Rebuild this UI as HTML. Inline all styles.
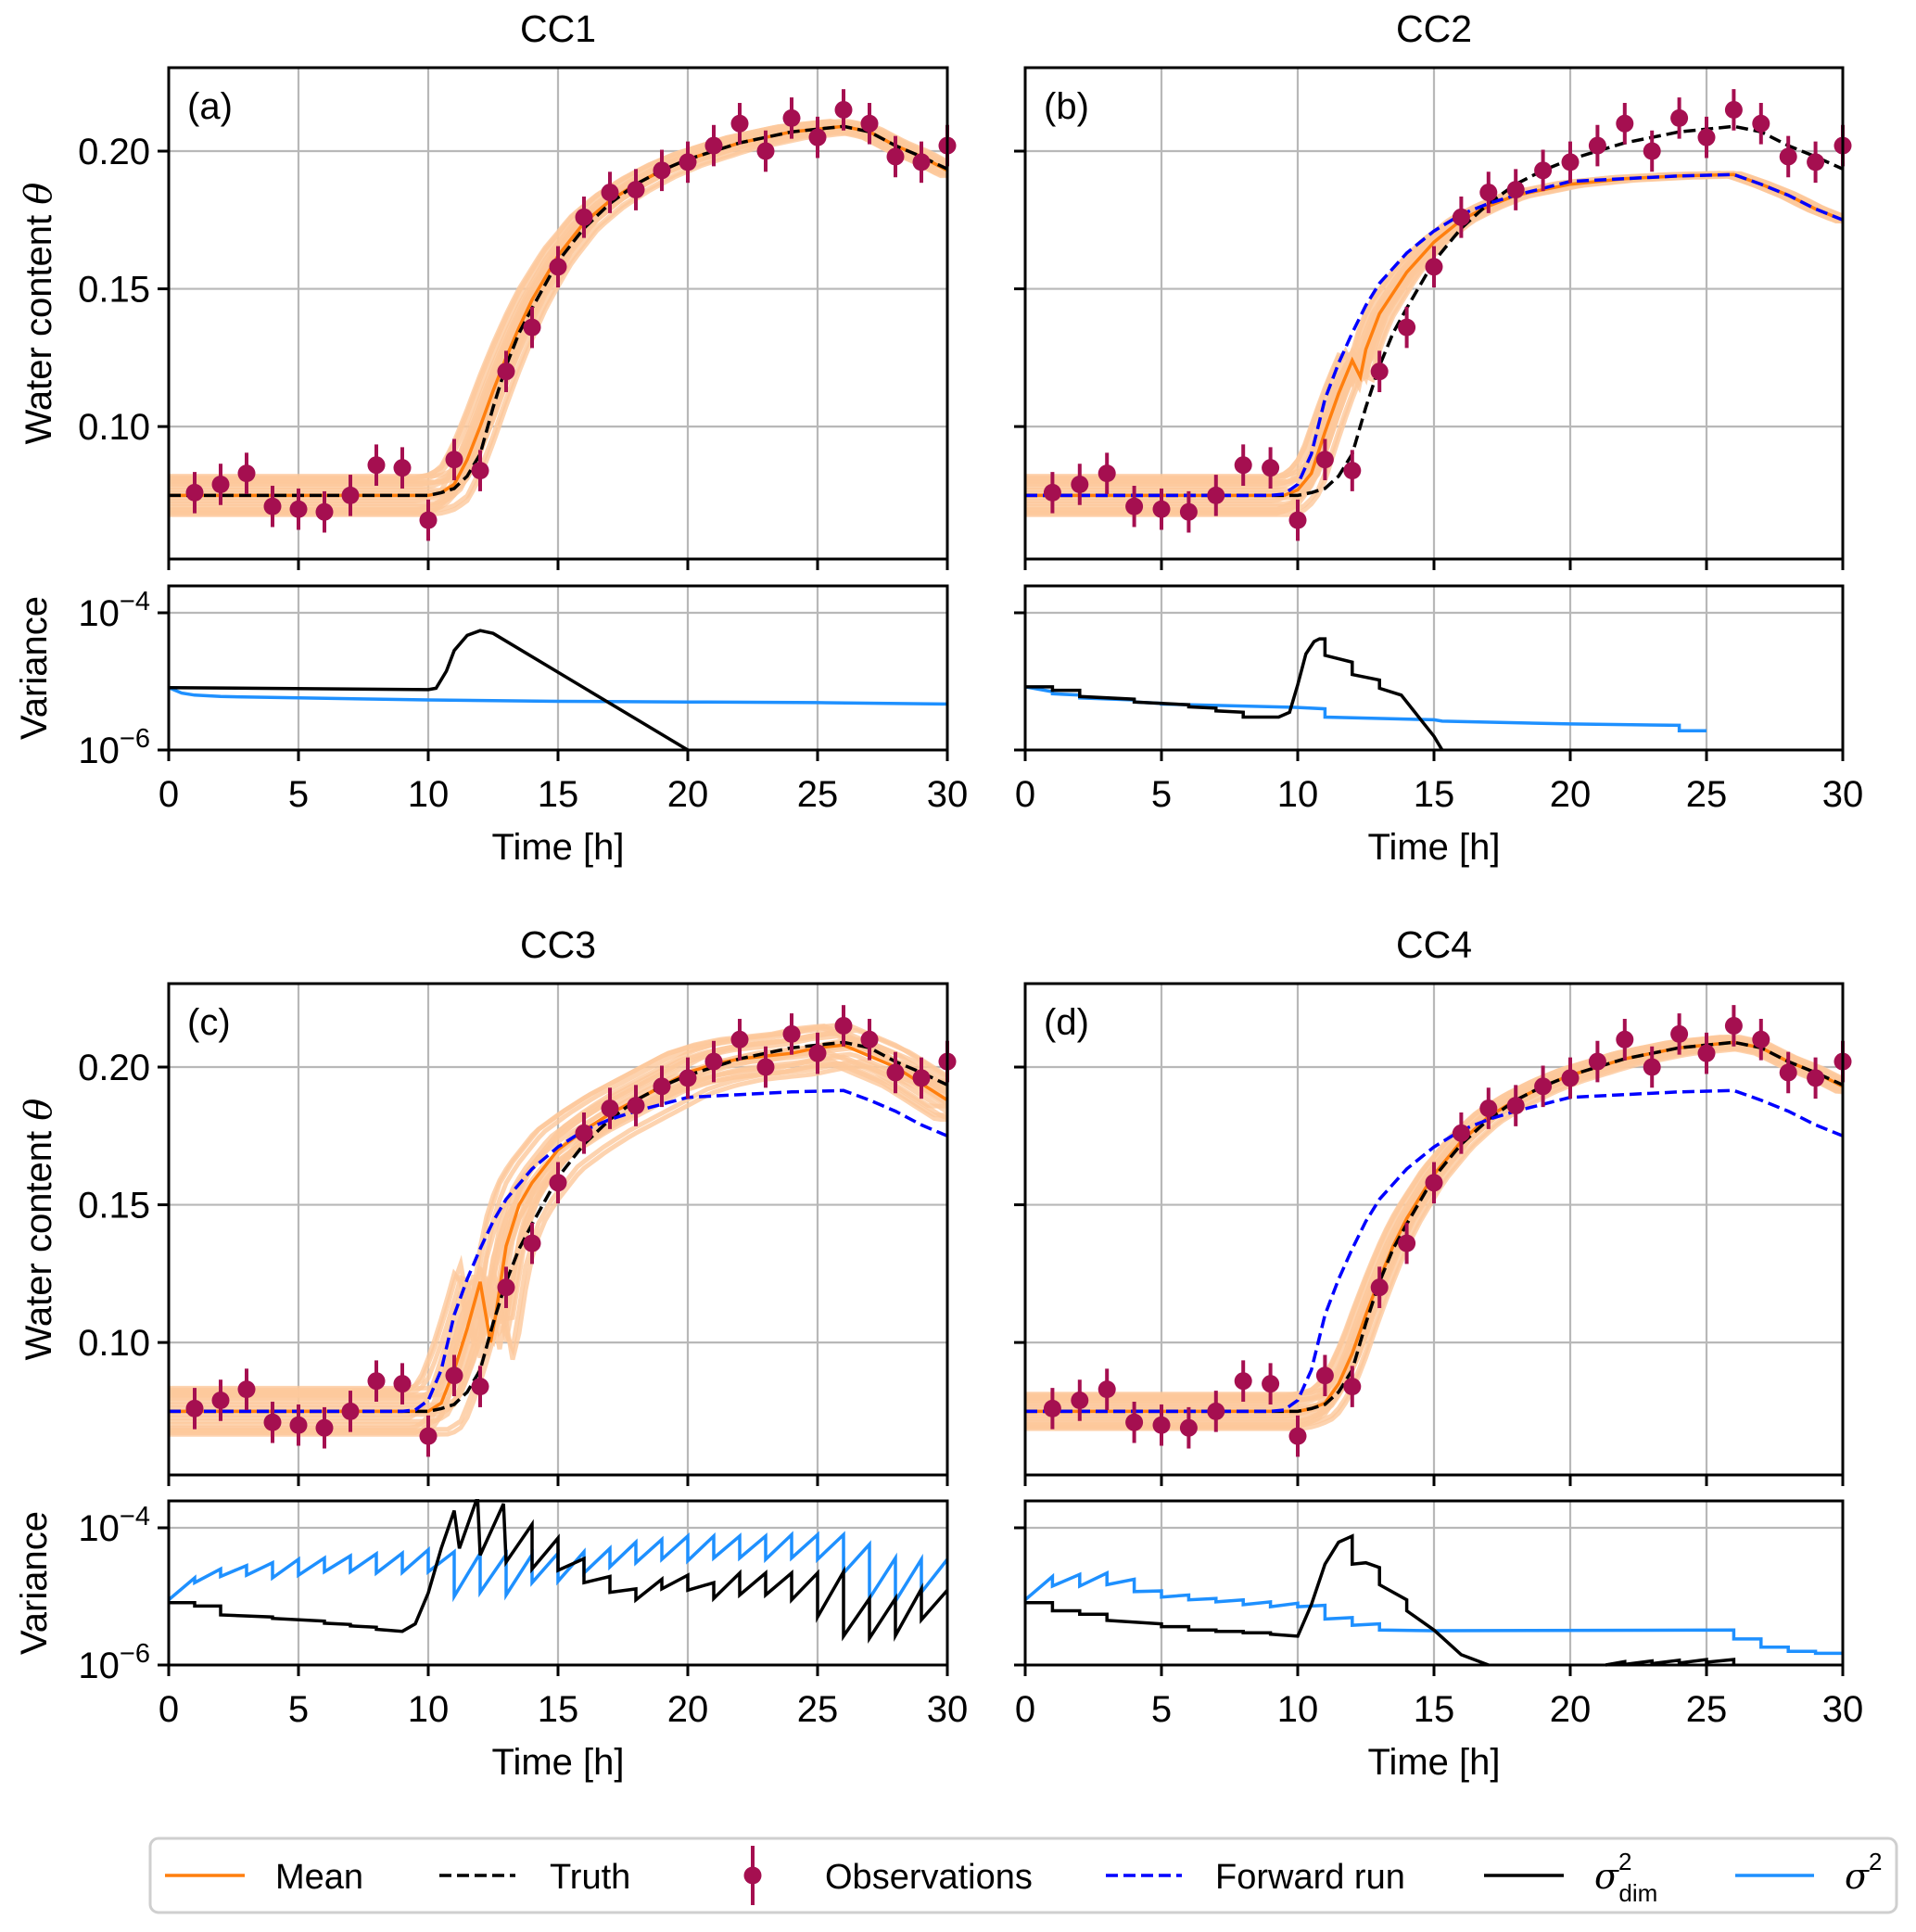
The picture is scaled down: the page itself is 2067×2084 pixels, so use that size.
<!DOCTYPE html>
<html><head><meta charset="utf-8">
<style>
html,body{margin:0;padding:0;background:#fff;}
svg{display:block;font-family:"Liberation Sans","DejaVu Sans",sans-serif;}
</style></head>
<body>
<svg id="fig" xmlns="http://www.w3.org/2000/svg" width="2067" height="2084" viewBox="0 0 2067 2084">
<rect width="2067" height="2084" fill="#fff"/>
</svg>
<script>
// ---------------- data ----------------
const obsTime = [1,2,3,4,5,6,7,8,9,10,11,12,13,14,15,16,17,18,19,20,21,22,23,24,25,26,27,28,29,30];
const obsVals = [0.076,0.079,0.083,0.071,0.070,0.069,0.075,0.086,0.085,0.066,0.088,0.084,0.120,0.136,0.158,0.176,0.185,0.186,0.193,0.196,0.202,0.210,0.200,0.212,0.205,0.215,0.210,0.198,0.196,0.202];
const obsErr = 0.0075;

const truthT = [0,10,10.5,11,11.5,12,12.5,13,13.5,14,15,16,17,18,19,20,21,22,23,24,25,26,27,28,29,30];
const truthV = [0.075,0.075,0.076,0.0775,0.082,0.090,0.107,0.122,0.134,0.143,0.160,0.172,0.181,0.188,0.193,0.197,0.200,0.203,0.205,0.207,0.208,0.209,0.207,0.202,0.198,0.1935];

const fwdT = [0,9,9.5,10,10.5,11,11.5,12,12.5,13,14,15,16,17,18,20,22,24,26,27,28,29,30];
const fwdV = [0.075,0.075,0.0755,0.079,0.090,0.110,0.123,0.134,0.144,0.152,0.163,0.171,0.177,0.181,0.184,0.189,0.190,0.191,0.1915,0.188,0.184,0.179,0.175];

const meanAT = [0,10,10.5,11,11.5,12,12.5,13,13.5,14,15,16,17,18,19,20,21,22,23,24,25,26,27,28,29,30];
const meanAV = [0.075,0.075,0.076,0.079,0.088,0.100,0.113,0.125,0.136,0.146,0.162,0.174,0.182,0.188,0.193,0.197,0.200,0.203,0.205,0.207,0.208,0.209,0.207,0.202,0.198,0.193];
const meanBT = [0,9.5,10,10.5,11,11.5,12,12.3,12.5,13,14,15,16,17,18,20,22,24,26,27,28,29,30];
const meanBV = [0.075,0.075,0.077,0.083,0.098,0.112,0.124,0.118,0.128,0.141,0.156,0.167,0.175,0.180,0.184,0.188,0.190,0.191,0.1915,0.188,0.184,0.179,0.175];
const meanCT = [0,10,10.5,11,11.5,12,12.4,12.6,13,13.5,14,15,16,17,18,19,20,21,22,23,24,25,26,27,28,29,30];
const meanCV = [0.075,0.075,0.078,0.090,0.105,0.122,0.100,0.110,0.135,0.150,0.158,0.170,0.177,0.183,0.188,0.193,0.198,0.201,0.203,0.204,0.205,0.207,0.208,0.204,0.200,0.194,0.188];
const meanDT = [0,10,10.5,11,11.5,12,12.5,13,13.5,14,15,16,17,18,19,20,21,22,23,24,25,26,27,28,29,30];
const meanDV = [0.075,0.075,0.076,0.078,0.085,0.096,0.110,0.123,0.135,0.145,0.161,0.173,0.182,0.188,0.193,0.197,0.200,0.203,0.205,0.207,0.208,0.209,0.207,0.202,0.198,0.193];

// ensemble member offsets (time shift in h, theta offset)
const memberDt = [-0.8,-0.5,-0.3,-0.1,0.1,0.3,0.5,0.8,-0.65,0.65,-0.7,-0.4,-0.2,0.0,0.2,0.4,0.7,-0.55,0.55,0.0];
const memberDy = [0.006,-0.005,0.004,-0.006,0.007,-0.003,0.005,-0.007,-0.002,0.002,0.0065,-0.0065,0.003,-0.004,0.001,-0.001,-0.0055,0.0055,0.0,0.0045];

// variance series: time [h] and log10(variance)
const varAdimT = [0,10,10.3,10.7,11,11.5,12,12.5,20];
const varAdimL = [-5.09,-5.12,-5.10,-4.85,-4.55,-4.33,-4.26,-4.30,-6.0];
const varAsigT = [0,0.5,1,2,5,10,15,20,25,30];
const varAsigL = [-5.09,-5.17,-5.20,-5.22,-5.24,-5.27,-5.29,-5.30,-5.31,-5.33];

const varBdimT = [0,1,1,2,2,4,4,6,6,7,7,8,8,9.3,9.7,10,10.3,10.6,10.8,11,11,12,12,13,13,13.8,14.2,14.6,15,15.3];
const varBdimL = [-5.08,-5.08,-5.13,-5.13,-5.22,-5.26,-5.30,-5.34,-5.37,-5.39,-5.43,-5.45,-5.52,-5.52,-5.45,-5.05,-4.60,-4.42,-4.38,-4.38,-4.62,-4.72,-4.90,-4.98,-5.10,-5.20,-5.40,-5.60,-5.80,-6.0];
const varBsigT = [0,1,1,2,2,4,4,5,5,10,11,11,15,15.3,20,24,24,25];
const varBsigL = [-5.08,-5.15,-5.18,-5.20,-5.24,-5.27,-5.30,-5.32,-5.33,-5.38,-5.40,-5.52,-5.56,-5.58,-5.62,-5.64,-5.72,-5.72];

const varCsigT = [0,1,1,2,2,3,3,4,4,5,5,6,6,7,7,8,8,9,9,10,10,11,11,12,12,13,13,14,14,15,15,16,16,17,17,18,18,19,19,20,20,21,21,22,22,23,23,24,24,25,25,26,26,27,27,28,28,29,29,30];
const varCsigL = [-5.05,-4.73,-4.80,-4.60,-4.71,-4.55,-4.69,-4.51,-4.73,-4.46,-4.69,-4.44,-4.64,-4.41,-4.64,-4.38,-4.66,-4.37,-4.65,-4.32,-4.64,-4.35,-5.00,-4.37,-4.94,-4.39,-4.98,-4.39,-4.80,-4.37,-4.78,-4.35,-4.66,-4.30,-4.57,-4.21,-4.51,-4.17,-4.46,-4.12,-4.48,-4.12,-4.44,-4.12,-4.44,-4.12,-4.46,-4.10,-4.44,-4.10,-4.46,-4.10,-4.66,-4.24,-5.03,-4.44,-5.07,-4.46,-4.94,-4.46];
const varCdimT = [0,1,1,2,2,4,4,6,6,7,7,8,8,9,9.5,10,10.5,11,11.2,11.9,12,12.9,13,14,14,15,15,16,16,17,17,18,18,19,19,20,20,21,21,22,22,23,23,24,24,25,25,26,26,27,27,28,28,29,29,30];
const varCdimL = [-5.09,-5.09,-5.14,-5.14,-5.27,-5.30,-5.32,-5.36,-5.39,-5.41,-5.43,-5.45,-5.48,-5.51,-5.40,-4.95,-4.30,-3.75,-4.30,-3.55,-4.40,-3.65,-4.50,-3.95,-4.60,-4.15,-4.62,-4.45,-4.80,-4.71,-4.94,-4.89,-5.05,-4.75,-4.89,-4.69,-4.91,-4.80,-5.03,-4.66,-4.98,-4.66,-4.98,-4.66,-5.05,-4.66,-5.30,-4.64,-5.58,-5.03,-5.61,-5.03,-5.57,-4.89,-5.34,-4.91];

const varDdimT = [0,1,1,2,2,3,3,5,5,6,6,7,7,8,8,9,9,10,10.5,11,11.5,12,12,12.5,13,13,14,14,15,16,17];
const varDdimL = [-5.09,-5.09,-5.21,-5.21,-5.26,-5.26,-5.35,-5.40,-5.44,-5.44,-5.49,-5.49,-5.51,-5.51,-5.53,-5.53,-5.55,-5.58,-5.12,-4.53,-4.21,-4.12,-4.53,-4.51,-4.58,-4.83,-5.05,-5.21,-5.49,-5.85,-6.0];
const varDdim2T = [21.3,22,22,23,23,24,24,25,25,26,26];
const varDdim2L = [-6.0,-5.95,-5.99,-5.94,-5.98,-5.93,-5.97,-5.92,-5.96,-5.92,-6.0];
const varDsigT = [0,1,1,2,2,3,3,4,4,5,5,6,6,7,7,8,8,9,9,10,10,11,11,12,12,13,13,15,26,26,27,27,28,28,29,29,30];
const varDsigL = [-5.05,-4.71,-4.85,-4.68,-4.85,-4.66,-4.83,-4.75,-4.93,-4.92,-5.01,-4.98,-5.05,-5.03,-5.08,-5.05,-5.12,-5.08,-5.15,-5.10,-5.15,-5.13,-5.33,-5.31,-5.42,-5.40,-5.49,-5.50,-5.49,-5.62,-5.62,-5.74,-5.74,-5.80,-5.80,-5.83,-5.83];

const xTicks = [0,5,10,15,20,25,30];
const thetaTicks = [0.10,0.15,0.20];
const thetaTickLabels = ["0.10","0.15","0.20"];
const varTicks = [-4,-6];

// ---------------- layout ----------------
const NS = "http://www.w3.org/2000/svg";
const svg = document.getElementById('fig');
const cols = [{x0:182,x1:1022},{x0:1106,x1:1988}];
const rows = [{t0:73,t1:603,v0:632,v1:809},{t0:1061,t1:1591,v0:1619,v1:1796}];
const TH_TOP = 0.2303, TH_BOT = 0.0519;
const LV_TOP = -3.608, LV_BOT = -6.0;
const GRID = "#b8b8b8";

function el(tag, attrs, parent){
  const e = document.createElementNS(NS, tag);
  for (const k in attrs) e.setAttribute(k, attrs[k]);
  (parent||svg).appendChild(e);
  return e;
}
function xScale(c,t){ return c.x0 + (t/30)*(c.x1-c.x0); }
function thScale(r,v){ return r.t0 + (TH_TOP - v)/(TH_TOP-TH_BOT)*(r.t1-r.t0); }
function lvScale(r,l){ return r.v0 + (LV_TOP - l)/(LV_TOP-LV_BOT)*(r.v1-r.v0); }
function interp(ts, vs, t){
  if (t<=ts[0]) return vs[0];
  for (let i=1;i<ts.length;i++){ if (t<=ts[i]){ const f=(t-ts[i-1])/((ts[i]-ts[i-1])||1); return vs[i-1]+f*(vs[i]-vs[i-1]); } }
  return vs[vs.length-1];
}

const panels = [
  {id:'a', title:'CC1', c:0, r:0, mT:meanAT, mV:meanAV, fwd:false, st:0.7, sy:1.0, decay:0.3,
   dims:[[varAdimT,varAdimL]], sig:[varAsigT,varAsigL]},
  {id:'b', title:'CC2', c:1, r:0, mT:meanBT, mV:meanBV, fwd:true, st:0.5, sy:1.0, decay:0.08,
   dims:[[varBdimT,varBdimL]], sig:[varBsigT,varBsigL]},
  {id:'c', title:'CC3', c:0, r:1, mT:meanCT, mV:meanCV, fwd:true, st:1.1, sy:1.2, decay:0.9,
   dims:[[varCdimT,varCdimL]], sig:[varCsigT,varCsigL]},
  {id:'d', title:'CC4', c:1, r:1, mT:meanDT, mV:meanDV, fwd:true, st:0.5, sy:0.9, decay:0.35,
   dims:[[varDdimT,varDdimL],[varDdim2T,varDdim2L]], sig:[varDsigT,varDsigL]}
];

const defs = el('defs',{});
panels.forEach(p=>{
  const c = cols[p.c], r = rows[p.r];
  const cp1 = el('clipPath',{id:'ct'+p.id},defs);
  el('rect',{x:c.x0,y:r.t0,width:c.x1-c.x0,height:r.t1-r.t0},cp1);
  const cp2 = el('clipPath',{id:'cv'+p.id},defs);
  el('rect',{x:c.x0,y:r.v0-2,width:c.x1-c.x0,height:r.v1-r.v0+4},cp2);

  const gT = el('g',{});
  
  
  xTicks.forEach(t=>{
    const x = xScale(c,t);
    const gl = el('line',{x1:x,y1:r.t0,x2:x,y2:r.t1,stroke:GRID,'stroke-width':2.2},gT);
    
    
    el('line',{x1:x,y1:r.t1,x2:x,y2:r.t1+12,stroke:'#000','stroke-width':3},gT);
  });
  thetaTicks.forEach((v,i)=>{
    const y = thScale(r,v);
    const gl = el('line',{x1:c.x0,y1:y,x2:c.x1,y2:y,stroke:GRID,'stroke-width':2.2},gT);
    
    
    el('line',{x1:c.x0-12,y1:y,x2:c.x0,y2:y,stroke:'#000','stroke-width':3},gT);
    if (p.c===0){
      const tx = el('text',{x:c.x0-20,y:y+14,'font-size':40,'text-anchor':'end',fill:'#000'},gT);
      tx.textContent = thetaTickLabels[i];
      
      
    }
  });
  const data = el('g',{'clip-path':'url(#ct'+p.id+')'});
  const gEns = el('g',{},data);
  
  
  memberDt.forEach((dt,k)=>{
    let pts=[];
    for (let t=0;t<=30.001;t+=0.25){
      const w = t<10 ? 1 : (t<15 ? 1-(1-p.decay)*(t-10)/5 : p.decay);
      const v = interp(p.mT,p.mV,t - dt*p.st) + memberDy[k]*p.sy*w;
      pts.push(xScale(c,t).toFixed(1)+','+thScale(r,v).toFixed(1));
    }
    const pl = el('polyline',{points:pts.join(' '),fill:'none',stroke:'#fcc89b','stroke-opacity':0.8,'stroke-width':5},gEns);
    
    
  });
  const meanPl = el('polyline',{points:p.mT.map((t,i)=>xScale(c,t).toFixed(1)+','+thScale(r,p.mV[i]).toFixed(1)).join(' '),fill:'none',stroke:'#ff7f0e','stroke-width':3.5},data);
  
  
  const trPl = el('polyline',{points:truthT.map((t,i)=>xScale(c,t).toFixed(1)+','+thScale(r,truthV[i]).toFixed(1)).join(' '),fill:'none',stroke:'#000','stroke-width':3.5,'stroke-dasharray':'13,6'},data);
  
  
  if (p.fwd){
    const fPl = el('polyline',{points:fwdT.map((t,i)=>xScale(c,t).toFixed(1)+','+thScale(r,fwdV[i]).toFixed(1)).join(' '),fill:'none',stroke:'#0000ff','stroke-width':3.5,'stroke-dasharray':'13,6'},data);
    
    
  }
  const gObs = el('g',{});
  
  
  obsTime.forEach((t,i)=>{
    const x = xScale(c,t);
    const g = el('g',{},gObs);
    
    
    el('line',{x1:x,y1:thScale(r,obsVals[i]+obsErr),x2:x,y2:thScale(r,obsVals[i]-obsErr),stroke:'#a50f50','stroke-width':4},g);
    el('circle',{cx:x,cy:thScale(r,obsVals[i]),r:9.5,fill:'#a50f50'},g);
  });
  const frame = el('rect',{x:c.x0,y:r.t0,width:c.x1-c.x0,height:r.t1-r.t0,fill:'none',stroke:'#000','stroke-width':3});
  
  
  const lab = el('text',{x:c.x0+20,y:r.t0+55,'font-size':40,fill:'#000'});
  lab.textContent = '('+p.id+')';
  
  
  const ttl = el('text',{x:(c.x0+c.x1)/2,y:r.t0-28,'font-size':41,'text-anchor':'middle',fill:'#000'});
  ttl.textContent = p.title;
  
  

  const gV = el('g',{});
  
  
  xTicks.forEach(t=>{
    const x = xScale(c,t);
    el('line',{x1:x,y1:r.v0,x2:x,y2:r.v1,stroke:GRID,'stroke-width':2.2},gV);
    el('line',{x1:x,y1:r.v1,x2:x,y2:r.v1+12,stroke:'#000','stroke-width':3},gV);
    const tx = el('text',{x:x,y:r.v1+61,'font-size':40,'text-anchor':'middle',fill:'#000'},gV);
    tx.textContent = String(t);
    
    
  });
  varTicks.forEach(l=>{
    const y = lvScale(r,l);
    el('line',{x1:c.x0,y1:y,x2:c.x1,y2:y,stroke:GRID,'stroke-width':2.2},gV);
    el('line',{x1:c.x0-12,y1:y,x2:c.x0,y2:y,stroke:'#000','stroke-width':3},gV);
    if (p.c===0){
      const tx = el('text',{x:c.x0-20,y:y+14,'font-size':40,'text-anchor':'end',fill:'#000'},gV);
      
      
      const t1 = el('tspan',{},tx); t1.textContent='10';
      const t2 = el('tspan',{dy:-17,'font-size':29},tx); t2.textContent='\u2212'+Math.abs(l);
    }
  });
  const vd = el('g',{'clip-path':'url(#cv'+p.id+')'});
  const sp = el('polyline',{points:p.sig[0].map((t,i)=>xScale(c,t).toFixed(1)+','+lvScale(r,p.sig[1][i]).toFixed(1)).join(' '),fill:'none',stroke:'#1e90ff','stroke-width':3.5},vd);
  
  
  p.dims.forEach(d=>{
    const dp = el('polyline',{points:d[0].map((t,i)=>xScale(c,t).toFixed(1)+','+lvScale(r,d[1][i]).toFixed(1)).join(' '),fill:'none',stroke:'#000','stroke-width':3.5},vd);
    
    
  });
  const vf = el('rect',{x:c.x0,y:r.v0,width:c.x1-c.x0,height:r.v1-r.v0,fill:'none',stroke:'#000','stroke-width':3});
  
  
  const xl = el('text',{x:(c.x0+c.x1)/2,y:r.v1+118,'font-size':40,'text-anchor':'middle',fill:'#000'});
  xl.textContent = 'Time [h]';
  
  
  if (p.c===0){
    const cy = (r.t0+r.t1)/2;
    const yl = el('text',{x:0,y:0,'font-size':40,'text-anchor':'middle',fill:'#000',transform:'translate(55,'+cy+') rotate(-90)'});
    
    
    const a = el('tspan',{},yl); a.textContent='Water content ';
    const b = el('tspan',{'font-style':'italic','font-family':'"DejaVu Serif",serif'},yl); b.textContent='\u03b8';
    const cv = (r.v0+r.v1)/2;
    const vl = el('text',{x:0,y:0,'font-size':40,'text-anchor':'middle',fill:'#000',transform:'translate(50,'+cv+') rotate(-90)'});
    vl.textContent = 'Variance';
    
    
  }
});

// ---------------- legend ----------------
const lg = el('g',{});


el('rect',{x:162,y:1983,width:1884,height:80,rx:9,fill:'#fff',stroke:'#cfcfcf','stroke-width':3},lg);
const LY = 2023;
function legItem(name, draw){
  const g = el('g',{},lg);
  
  
  draw(g);
  return g;
}
legItem('legend-entry-mean',g=>{
  el('line',{x1:178,y1:LY,x2:264,y2:LY,stroke:'#ff7f0e','stroke-width':3.5},g);
  const t=el('text',{x:297,y:LY+14,'font-size':38},g); t.textContent='Mean';
});
legItem('legend-entry-truth',g=>{
  el('line',{x1:474,y1:LY,x2:556,y2:LY,stroke:'#000','stroke-width':3.5,'stroke-dasharray':'13,6'},g);
  const t=el('text',{x:593,y:LY+14,'font-size':38},g); t.textContent='Truth';
});
legItem('legend-entry-observations',g=>{
  el('line',{x1:812,y1:LY-32,x2:812,y2:LY+32,stroke:'#a50f50','stroke-width':4},g);
  el('circle',{cx:812,cy:LY,r:9.5,fill:'#a50f50'},g);
  const t=el('text',{x:890,y:LY+14,'font-size':38},g); t.textContent='Observations';
});
legItem('legend-entry-forward-run',g=>{
  el('line',{x1:1193,y1:LY,x2:1275,y2:LY,stroke:'#0000ff','stroke-width':3.5,'stroke-dasharray':'13,6'},g);
  const t=el('text',{x:1311,y:LY+14,'font-size':38},g); t.textContent='Forward run';
});
legItem('legend-entry-sigma2-dim',g=>{
  el('line',{x1:1601,y1:LY,x2:1687,y2:LY,stroke:'#000','stroke-width':3.5},g);
  const t=el('text',{x:1720,y:LY+14,'font-size':38},g);
  const a=el('tspan',{'font-style':'italic','font-family':'"DejaVu Serif",serif'},t); a.textContent='\u03c3';
  const b=el('tspan',{dy:-20,'font-size':26},t); b.textContent='2';
  const c=el('tspan',{dx:-14,dy:34,'font-size':26},t); c.textContent='dim';
});
legItem('legend-entry-sigma2',g=>{
  el('line',{x1:1872,y1:LY,x2:1957,y2:LY,stroke:'#1e90ff','stroke-width':3.5},g);
  const t=el('text',{x:1990,y:LY+14,'font-size':38},g);
  const a=el('tspan',{'font-style':'italic','font-family':'"DejaVu Serif",serif'},t); a.textContent='\u03c3';
  const b=el('tspan',{dy:-20,'font-size':26},t); b.textContent='2';
});
</script>
</body></html>
